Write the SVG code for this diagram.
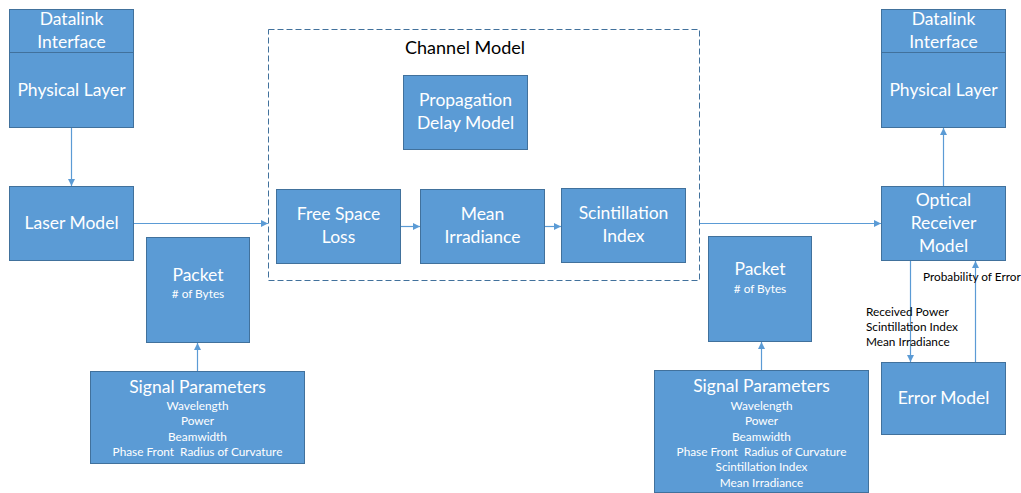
<svg xmlns="http://www.w3.org/2000/svg" width="1021" height="493" viewBox="0 0 1021 493">
  <defs>
    <style>
      .box { fill: #5B9BD5; stroke: #41719C; stroke-width: 1; }
      .t { font-family: Lato, "Open Sans", sans-serif; fill: #ffffff; text-anchor: middle; font-size: 17.5px; }
      .s { font-family: Lato, "Open Sans", sans-serif; fill: #ffffff; text-anchor: middle; font-size: 11.8px; }
      .k { font-family: Lato, "Open Sans", sans-serif; fill: #000000; font-size: 11.8px; }
      .edge { stroke: #5B9BD5; stroke-width: 1.2; fill: none; marker-end: url(#arr); }
      .frame { fill: none; stroke: #41719C; stroke-width: 1; stroke-dasharray: 6 3; }
    </style>
    <marker id="arr" viewBox="0 0 10 10" refX="10" refY="5" markerWidth="7" markerHeight="7" markerUnits="userSpaceOnUse" orient="auto">
      <path d="M0,0 L10,5 L0,10 z" fill="#5B9BD5"/>
    </marker>
  </defs>

  <!-- channel model container -->
  <g id="channel-model">
    <rect class="frame" x="268.5" y="29.5" width="431" height="251"/>
    <text x="465" y="54" font-family="Lato, 'Open Sans', sans-serif" font-size="18" text-anchor="middle" fill="#000">Channel Model</text>
  </g>

  <!-- transmitter side -->
  <g id="tx-stack">
    <rect class="box" x="9.5" y="9.5" width="124" height="43"/>
    <rect class="box" x="9.5" y="52.5" width="124" height="75"/>
    <text class="t" x="71.5" y="25">Datalink</text>
    <text class="t" x="71.5" y="48">Interface</text>
    <text class="t" x="71.5" y="96">Physical Layer</text>
  </g>
  <g id="laser-model">
    <rect class="box" x="9.5" y="186.5" width="124" height="74"/>
    <text class="t" x="71.5" y="229">Laser Model</text>
  </g>
  <g id="tx-packet">
    <rect class="box" x="146.5" y="237.5" width="103" height="105"/>
    <text class="t" x="198" y="281">Packet</text>
    <text class="s" x="198" y="298"># of Bytes</text>
  </g>
  <g id="tx-signal">
    <rect class="box" x="90.5" y="371.5" width="214" height="92"/>
    <text class="t" x="197.5" y="393">Signal Parameters</text>
    <text class="s" x="197.5" y="410">Wavelength</text>
    <text class="s" x="197.5" y="425">Power</text>
    <text class="s" x="197.5" y="441">Beamwidth</text>
    <text class="s" x="197.5" y="456">Phase Front&#160; Radius of Curvature</text>
  </g>

  <!-- channel blocks -->
  <g id="propagation-delay">
    <rect class="box" x="403.5" y="75.5" width="124" height="74"/>
    <text class="t" x="465.5" y="106">Propagation</text>
    <text class="t" x="465.5" y="129">Delay Model</text>
  </g>
  <g id="free-space-loss">
    <rect class="box" x="276.5" y="189.5" width="124" height="74"/>
    <text class="t" x="338.5" y="220">Free Space</text>
    <text class="t" x="338.5" y="243">Loss</text>
  </g>
  <g id="mean-irradiance">
    <rect class="box" x="420.5" y="189.5" width="124" height="74"/>
    <text class="t" x="482.5" y="220">Mean</text>
    <text class="t" x="482.5" y="243">Irradiance</text>
  </g>
  <g id="scintillation-index">
    <rect class="box" x="561.5" y="188.5" width="124" height="74"/>
    <text class="t" x="623.5" y="219">Scintillation</text>
    <text class="t" x="623.5" y="242">Index</text>
  </g>

  <!-- receiver side -->
  <g id="rx-stack">
    <rect class="box" x="881.5" y="9.5" width="124" height="43"/>
    <rect class="box" x="881.5" y="52.5" width="124" height="75"/>
    <text class="t" x="943.5" y="25">Datalink</text>
    <text class="t" x="943.5" y="48">Interface</text>
    <text class="t" x="943.5" y="96">Physical Layer</text>
  </g>
  <g id="optical-receiver">
    <rect class="box" x="881.5" y="186.5" width="124" height="74"/>
    <text class="t" x="943.5" y="206">Optical</text>
    <text class="t" x="943.5" y="229">Receiver</text>
    <text class="t" x="943.5" y="252">Model</text>
  </g>
  <g id="rx-packet">
    <rect class="box" x="708.5" y="236.5" width="103" height="105"/>
    <text class="t" x="760" y="275">Packet</text>
    <text class="s" x="760" y="293"># of Bytes</text>
  </g>
  <g id="rx-signal">
    <rect class="box" x="654.5" y="370.5" width="214" height="122"/>
    <text class="t" x="761.5" y="392">Signal Parameters</text>
    <text class="s" x="761.5" y="410">Wavelength</text>
    <text class="s" x="761.5" y="425">Power</text>
    <text class="s" x="761.5" y="441">Beamwidth</text>
    <text class="s" x="761.5" y="456">Phase Front&#160; Radius of Curvature</text>
    <text class="s" x="761.5" y="471">Scintillation Index</text>
    <text class="s" x="761.5" y="487">Mean Irradiance</text>
  </g>
  <g id="error-model">
    <rect class="box" x="881.5" y="362.5" width="124" height="72"/>
    <text class="t" x="943.5" y="404">Error Model</text>
  </g>

  <!-- connectors -->
  <g id="connectors">
    <line class="edge" x1="71.5" y1="128" x2="71.5" y2="186"/>
    <line class="edge" x1="134" y1="223.5" x2="268" y2="223.5"/>
    <line class="edge" x1="197.5" y1="371" x2="197.5" y2="343"/>
    <line class="edge" x1="401" y1="226.5" x2="420" y2="226.5"/>
    <line class="edge" x1="545" y1="226.5" x2="561" y2="226.5"/>
    <line class="edge" x1="700" y1="223.5" x2="881" y2="223.5"/>
    <line class="edge" x1="761.5" y1="370" x2="761.5" y2="342"/>
    <line class="edge" x1="943.5" y1="186" x2="943.5" y2="128"/>
    <line class="edge" x1="910.5" y1="261" x2="910.5" y2="362"/>
    <line class="edge" x1="975.5" y1="362" x2="975.5" y2="261"/>
    <text class="k" x="923" y="281">Probability of Error</text>
    <text class="k" x="866" y="316">Received Power</text>
    <text class="k" x="866" y="331">Scintillation Index</text>
    <text class="k" x="866" y="346">Mean Irradiance</text>
  </g>
</svg>
